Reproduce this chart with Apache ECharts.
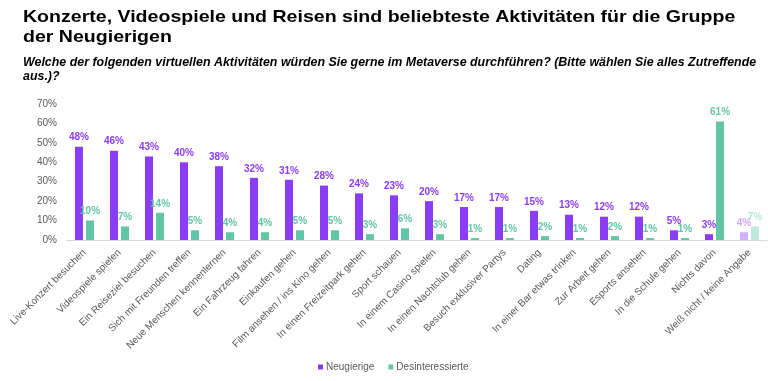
<!DOCTYPE html>
<html><head><meta charset="utf-8">
<script src="https://cdn.jsdelivr.net/npm/echarts@6/dist/echarts.min.js"></script>
<style>html,body{margin:0;padding:0;background:#fff}#c{width:768px;height:381px}</style>
</head><body><div id="c"></div>
<script>
var categories = ["Live-Konzert besuchen","Videospiele spielen","Ein Reiseziel besuchen","Sich mit Freunden treffen","Neue Menschen kennenlernen","Ein Fahrzeug fahren","Einkaufen gehen","Film ansehen / ins Kino gehen","In einen Freizeitpark gehen","Sport schauen","In einem Casino spielen","In einen Nachtclub gehen","Besuch exklusiver Partys","Dating","In einer Bar etwas trinken","Zur Arbeit gehen","Esports ansehen","In die Schule gehen","Nichts davon","Weiß nicht / keine Angabe"];
var neugierige = [48,46,43,40,38,32,31,28,24,23,20,17,17,15,13,12,12,5,3,4];
var desinteressierte = [10,7,14,5,4,4,5,5,3,6,3,1,1,2,1,2,1,1,61,7];
var yTicks = [0,10,20,30,40,50,60,70];

var PURPLE = '#8B3DF6', GREEN = '#62C6A6';
var FONT = '"Liberation Sans", Arial, sans-serif';
function mk(arr, color) {
  return arr.map(function (v, i) {
    var last = i === arr.length - 1;
    return {
      value: v,
      itemStyle: { color: color, opacity: last ? 0.4 : 1 },
      label: { color: color, opacity: last ? 0.45 : 1 }
    };
  });
}
var chart = echarts.init(document.getElementById('c'));
chart.setOption({
  animation: false,
  textStyle: { fontFamily: FONT },
  graphic: [{
    type: 'text', left: 23, top: 7, scaleX: 1.15,
    style: {
      text: 'Konzerte, Videospiele und Reisen sind beliebteste Aktivitäten für die Gruppe\nder Neugierigen',
      font: 'bold 17px ' + FONT, fill: '#000', lineHeight: 20
    }
  }, {
    type: 'text', left: 23, top: 56, scaleX: 1.035,
    style: {
      text: 'Welche der folgenden virtuellen Aktivitäten würden Sie gerne im Metaverse durchführen? (Bitte wählen Sie alles Zutreffende\naus.)?',
      font: 'italic bold 12px ' + FONT, fill: '#000', lineHeight: 14
    }
  }],
  legend: {
    left: 313, top: 357, itemWidth: 5, itemHeight: 5, itemGap: 14,
    icon: 'rect',
    textStyle: { fontFamily: FONT, fontSize: 10, color: '#595959', padding: [0,0,0,-2] },
    data: [{ name: 'Neugierige', itemStyle: { color: PURPLE } }, { name: 'Desinteressierte', itemStyle: { color: GREEN } }]
  },
  grid: { left: 67, right: 1, top: 104, bottom: 141 },
  xAxis: {
    type: 'category', data: categories,
    axisLine: { lineStyle: { color: '#d9d9d9', width: 1 } },
    axisTick: { show: false },
    axisLabel: { rotate: 45, interval: 0, fontSize: 10, color: '#595959', fontFamily: FONT, margin: 11 }
  },
  yAxis: {
    type: 'value', min: 0, max: 70, interval: 10,
    axisLine: { show: false }, axisTick: { show: false },
    splitLine: { show: false },
    axisLabel: { formatter: function (v) { return yTicks.indexOf(v) >= 0 ? v + '%' : ''; }, fontSize: 10, color: '#595959', fontFamily: FONT, margin: 10 }
  },
  series: [{
    name: 'Neugierige', type: 'bar', barWidth: 8, barGap: '38%',
    data: mk(neugierige, PURPLE),
    itemStyle: { color: PURPLE },
    label: { show: true, position: 'top', formatter: '{c}%', fontWeight: 'bold', fontSize: 10, fontFamily: FONT, distance: 4 }
  }, {
    name: 'Desinteressierte', type: 'bar', barWidth: 8,
    data: mk(desinteressierte, GREEN),
    itemStyle: { color: GREEN },
    label: { show: true, position: 'top', formatter: '{c}%', fontWeight: 'bold', fontSize: 10, fontFamily: FONT, distance: 4 }
  }]
});
</script></body></html>
